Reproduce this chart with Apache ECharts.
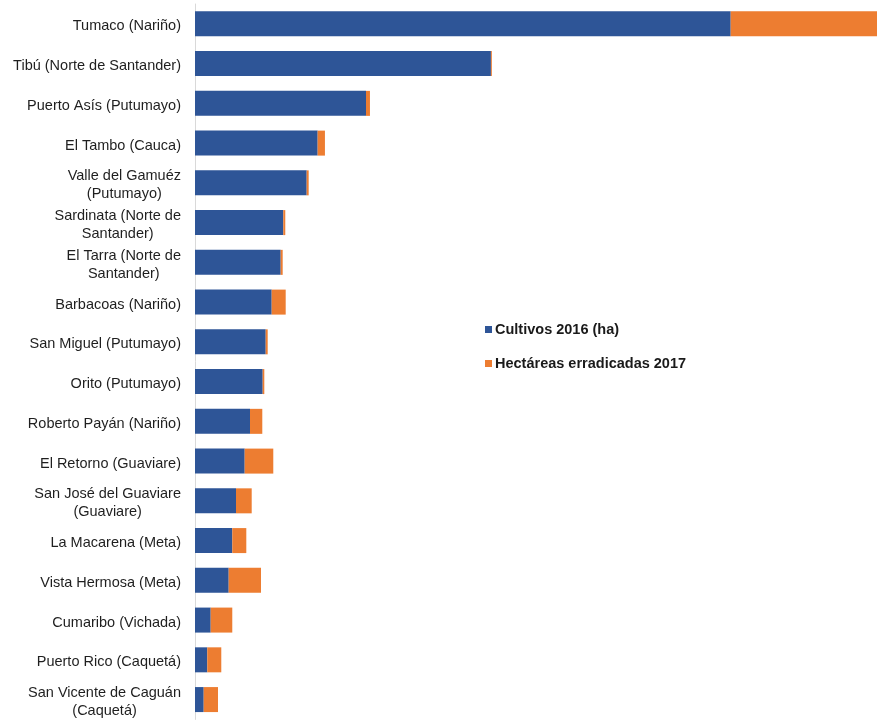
<!DOCTYPE html>
<html>
<head>
<meta charset="utf-8">
<script src="https://cdn.jsdelivr.net/npm/echarts@6/dist/echarts.min.js"></script>
<style>
html,body{margin:0;padding:0;background:#fff;}
#chart{width:877px;height:720px;}
</style>
</head>
<body>
<div id="chart"></div>
<script>
const categories = [
  "Tumaco (Nariño)",
  "Tibú (Norte de Santander)",
  "Puerto Asís (Putumayo)",
  "El Tambo (Cauca)",
  "Valle del Gamuéz\n(Putumayo)",
  "Sardinata (Norte de\nSantander)",
  "El Tarra (Norte de\nSantander)",
  "Barbacoas (Nariño)",
  "San Miguel (Putumayo)",
  "Orito (Putumayo)",
  "Roberto Payán (Nariño)",
  "El Retorno (Guaviare)",
  "San José del Guaviare\n(Guaviare)",
  "La Macarena (Meta)",
  "Vista Hermosa (Meta)",
  "Cumaribo (Vichada)",
  "Puerto Rico (Caquetá)",
  "San Vicente de Caguán\n(Caquetá)"
];
const cultivos2016 = [23148, 12787, 7390, 5300, 4826, 3815, 3703, 3314, 3055, 2925, 2377, 2147, 1772, 1612, 1456, 678, 531, 376];
const erradicadas2017 = [6322, 40, 170, 315, 86, 86, 86, 605, 86, 70, 531, 1236, 678, 605, 1396, 933, 605, 618];
const seriesNames = ["Cultivos 2016 (ha)", "Hectáreas erradicadas 2017"];

const chart = echarts.init(document.getElementById('chart'));
chart.setOption({
  animation: false,
  backgroundColor: '#ffffff',
  grid: { left: 195, right: 0, top: 4, height: 718, containLabel: false },
  legend: {
    orient: 'vertical',
    left: 480,
    top: 316,
    itemWidth: 7,
    itemHeight: 7,
    itemGap: 17,
    icon: 'rect',
    textStyle: { fontFamily: 'Liberation Sans, Arial', fontSize: 14.5, fontWeight: 'bold', color: '#1a1a1a', lineHeight: 17, padding: [0,0,0,-2] },
    data: seriesNames
  },
  xAxis: {
    type: 'value',
    min: 0,
    max: 29470,
    show: false
  },
  yAxis: {
    type: 'category',
    inverse: true,
    data: categories,
    axisLine: { show: true, lineStyle: { color: '#d9d9d9', width: 1 } },
    axisTick: { show: false },
    axisLabel: {
      margin: 14,
      align: 'right',
      color: '#1f1f1f',
      fontFamily: 'Liberation Sans, Arial',
      fontSize: 14.5,
      lineHeight: 18,
      padding: [5, 0, 0, 0],
      formatter: function (v) {
        return v.split('\n').map(function (s) { return '{c|' + s + '}'; }).join('\n');
      },
      rich: { c: { align: 'center', fontFamily: 'Liberation Sans, Arial', fontSize: 14.5, lineHeight: 18, color: '#1f1f1f' } }
    }
  },
  series: [
    {
      name: seriesNames[0],
      type: 'bar',
      stack: 'total',
      barWidth: 25,
      itemStyle: { color: '#2E5597' },
      data: cultivos2016
    },
    {
      name: seriesNames[1],
      type: 'bar',
      stack: 'total',
      barWidth: 25,
      itemStyle: { color: '#ED7D31' },
      data: erradicadas2017
    }
  ]
});
</script>
</body>
</html>
